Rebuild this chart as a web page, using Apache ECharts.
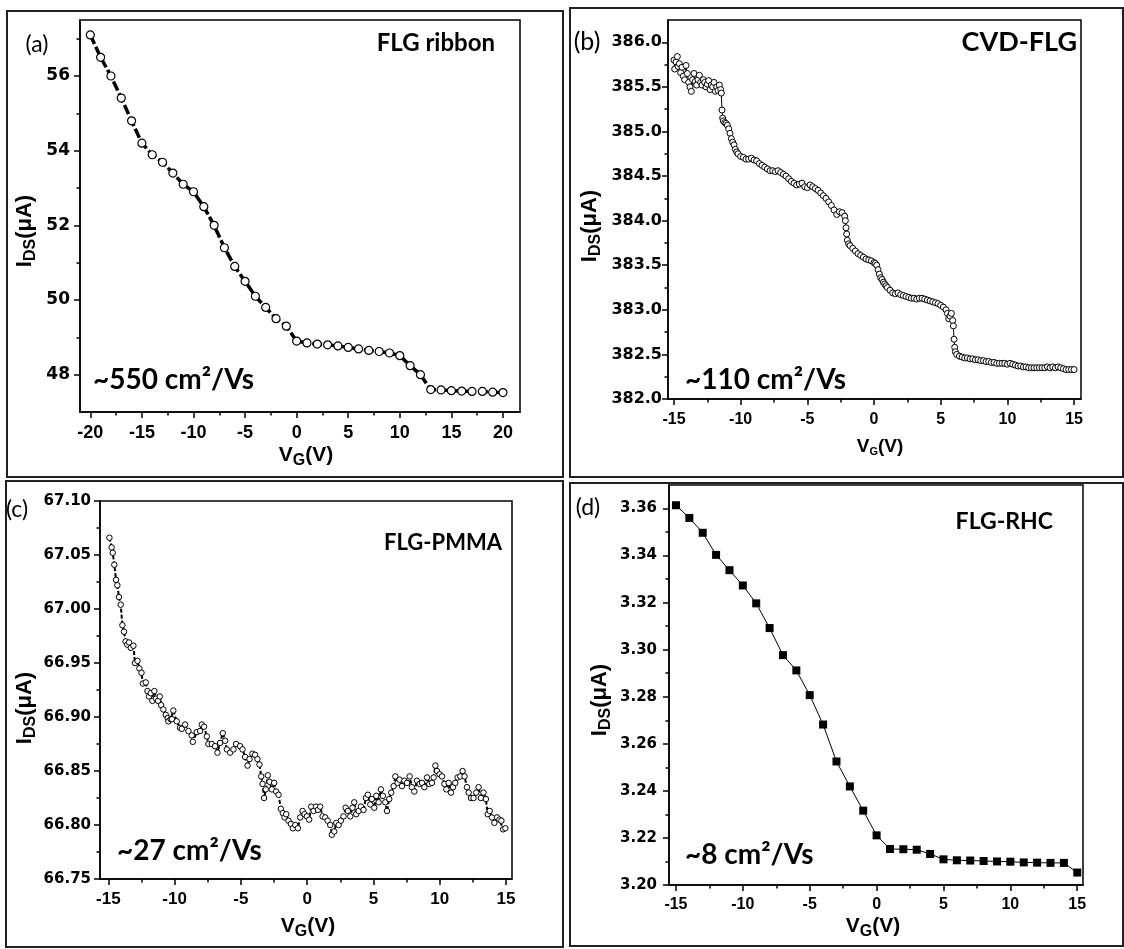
<!DOCTYPE html>
<html>
<head>
<meta charset="utf-8">
<script src="https://cdn.jsdelivr.net/npm/echarts@6/dist/echarts.min.js"></script>
<style>
html, body { margin: 0; padding: 0; background: #fff; }
#main { width: 1124px; height: 949px; }
</style>
</head>
<body>
<div id="main"></div>
<script>
// (a) FLG ribbon
var aVg = [-20, -19, -18, -17, -16, -15, -14, -13, -12, -11, -10, -9, -8, -7, -6, -5, -4, -3, -2, -1,
	0, 1, 2, 3, 4, 5, 6, 7, 8, 9, 10, 11, 12, 13, 14, 15, 16, 17, 18, 19, 20];
var aIds = [57.1, 56.5, 56.0, 55.41, 54.8, 54.2, 53.89, 53.69, 53.4, 53.1, 52.9, 52.5, 52.0, 51.4, 50.9, 50.5, 50.1, 49.8, 49.5, 49.3,
	48.9, 48.85, 48.82, 48.8, 48.77, 48.73, 48.69, 48.65, 48.62, 48.58, 48.51, 48.24, 48.0, 47.6, 47.59, 47.57, 47.56, 47.55, 47.55, 47.53, 47.52];
var aXTicks = [-20, -15, -10, -5, 0, 5, 10, 15, 20];
var aXMinor = [-17.5, -12.5, -7.5, -2.5, 2.5, 7.5, 12.5, 17.5];
var aYTicks = [48, 50, 52, 54, 56];
var aYMinor = [49, 51, 53, 55, 57];

// (b) CVD-FLG
var bVg = [
	-15.0, -14.95, -14.85, -14.75, -14.7, -14.6, -14.5, -14.4, -14.3, -14.2,
	-14.1, -14.0, -13.9, -13.8, -13.7, -13.6, -13.5, -13.4, -13.3, -13.2,
	-13.1, -13.0, -12.9, -12.8, -12.7, -12.6, -12.5, -12.4, -12.3, -12.2,
	-12.1, -12.0, -11.9, -11.8, -11.7, -11.6, -11.5, -11.45, -11.4, -11.35,
	-11.3, -11.2, -11.1, -11.0, -10.9, -10.8, -10.7, -10.6, -10.5, -10.4,
	-10.3, -10.2, -10.0, -9.8, -9.6, -9.4, -9.2, -9.0, -8.8, -8.6,
	-8.4, -8.2, -8.0, -7.8, -7.6, -7.4, -7.2, -7.0, -6.8, -6.6,
	-6.4, -6.2, -6.0, -5.8, -5.6, -5.4, -5.2, -5.0, -4.8, -4.6,
	-4.4, -4.2, -4.0, -3.8, -3.6, -3.4, -3.2, -3.0, -2.8, -2.6,
	-2.4, -2.2, -2.15, -2.1, -2.05, -2.0, -1.9, -1.8, -1.6, -1.4,
	-1.2, -1.0, -0.8, -0.6, -0.4, -0.2, 0.0, 0.1, 0.2, 0.3,
	0.4, 0.5, 0.6, 0.7, 0.8, 0.9, 1.0, 1.2, 1.4, 1.6,
	1.8, 2.0, 2.2, 2.4, 2.6, 2.8, 3.0, 3.2, 3.4, 3.6,
	3.8, 4.0, 4.2, 4.4, 4.6, 4.8, 5.0, 5.2, 5.4, 5.5,
	5.6, 5.7, 5.8, 5.9, 5.95, 6.0, 6.05, 6.1, 6.2, 6.4,
	6.6, 6.8, 7.0, 7.2, 7.4, 7.6, 7.8, 8.0, 8.2, 8.4,
	8.6, 8.8, 9.0, 9.2, 9.4, 9.6, 9.8, 10.0, 10.2, 10.4,
	10.6, 10.8, 11.0, 11.2, 11.4, 11.6, 11.8, 12.0, 12.2, 12.4,
	12.6, 12.8, 13.0, 13.2, 13.4, 13.6, 13.8, 14.0, 14.2, 14.4,
	14.6, 14.8, 15.0];
var bIds = [
	385.80, 385.70, 385.78, 385.84, 385.73, 385.76, 385.66, 385.72, 385.62, 385.58,
	385.74, 385.65, 385.55, 385.50, 385.45, 385.58, 385.65, 385.56, 385.52, 385.58,
	385.63, 385.55, 385.52, 385.58, 385.55, 385.50, 385.53, 385.57, 385.47, 385.52,
	385.50, 385.55, 385.45, 385.50, 385.46, 385.52, 385.47, 385.43, 385.24, 385.15,
	385.12, 385.10, 385.09, 385.07, 385.03, 384.98, 384.92, 384.88, 384.85, 384.80,
	384.77, 384.75, 384.72, 384.71, 384.69, 384.69, 384.70, 384.68, 384.67, 384.64,
	384.62, 384.60, 384.58, 384.56, 384.56, 384.55, 384.56, 384.54, 384.52, 384.50,
	384.47, 384.44, 384.42, 384.40, 384.41, 384.42, 384.38, 384.37, 384.40, 384.38,
	384.36, 384.34, 384.31, 384.28, 384.25, 384.21, 384.17, 384.12, 384.07, 384.10,
	384.09, 384.05, 384.00, 383.92, 383.85, 383.78, 383.74, 383.72, 383.69, 383.66,
	383.63, 383.61, 383.59, 383.57, 383.56, 383.55, 383.53, 383.52, 383.50, 383.45,
	383.40, 383.36, 383.34, 383.31, 383.29, 383.27, 383.25, 383.22, 383.19, 383.18,
	383.19, 383.17, 383.16, 383.15, 383.14, 383.13, 383.13, 383.12, 383.13, 383.13,
	383.12, 383.11, 383.10, 383.09, 383.08, 383.07, 383.05, 383.03, 383.00, 382.96,
	382.90, 382.93, 382.96, 382.88, 382.82, 382.67, 382.58, 382.53, 382.50, 382.48,
	382.47, 382.46, 382.46, 382.45, 382.45, 382.44, 382.44, 382.43, 382.43, 382.42,
	382.42, 382.41, 382.41, 382.40, 382.40, 382.40, 382.40, 382.39, 382.40, 382.39,
	382.38, 382.37, 382.37, 382.36, 382.36, 382.35, 382.35, 382.35, 382.35, 382.35,
	382.35, 382.35, 382.36, 382.35, 382.36, 382.35, 382.36, 382.35, 382.34, 382.33,
	382.33, 382.33, 382.33];
var bXTicks = [-15, -10, -5, 0, 5, 10, 15];
var bXMinor = [-12.5, -7.5, -2.5, 2.5, 7.5, 12.5];
var bYTicks = [382.0, 382.5, 383.0, 383.5, 384.0, 384.5, 385.0, 385.5, 386.0];
var bYMinor = [382.25, 382.75, 383.25, 383.75, 384.25, 384.75, 385.25, 385.75];

// (c) FLG-PMMA
var cVg = [
	-14.92, -14.75, -14.67, -14.55, -14.42, -14.32, -14.2, -14.07, -13.94, -13.82,
	-13.7, -13.57, -13.44, -13.31, -13.11, -12.99, -12.8, -12.66, -12.5, -12.4,
	-12.18, -12.05, -11.93, -11.8, -11.68, -11.53, -11.4, -11.25, -11.12, -11.02,
	-10.85, -10.67, -10.52, -10.47, -10.3, -10.2, -10.1, -9.84, -9.59, -9.46,
	-9.21, -8.96, -8.71, -8.63, -8.33, -8.08, -7.95, -7.78, -7.57, -7.45,
	-7.2, -6.95, -6.77, -6.57, -6.37, -6.19, -6.06, -5.81, -5.56, -5.36,
	-5.06, -4.88, -4.68, -4.5, -4.35, -4.13, -3.93, -3.75, -3.6, -3.47,
	-3.37, -3.25, -3.12, -2.97, -2.84, -2.67, -2.49, -2.34, -2.16, -1.99,
	-1.84, -1.71, -1.58, -1.41, -1.23, -1.08, -0.9, -0.7, -0.53, -0.35,
	-0.2, -0.02, 0.15, 0.3, 0.48, 0.66, 0.81, 0.98, 1.16, 1.36,
	1.54, 1.74, 1.86, 2.04, 2.19, 2.37, 2.54, 2.74, 2.9, 3.07,
	3.25, 3.42, 3.55, 3.7, 3.88, 4.05, 4.25, 4.43, 4.58, 4.76,
	4.88, 5.06, 5.21, 5.39, 5.56, 5.71, 5.89, 6.02, 6.19, 6.34,
	6.52, 6.65, 6.82, 6.97, 7.15, 7.33, 7.53, 7.73, 7.9, 8.08,
	8.28, 8.48, 8.66, 8.84, 9.04, 9.21, 9.41, 9.54, 9.67, 9.79,
	9.99, 10.17, 10.35, 10.5, 10.67, 10.85, 11.0, 11.17, 11.35, 11.55,
	11.72, 11.87, 12.05, 12.18, 12.36, 12.55, 12.75, 12.93, 13.1, 13.3,
	13.48, 13.62, 13.77, 13.94, 14.12, 14.32, 14.5, 14.65, 14.78, 14.95];
var cIds = [
	67.066, 67.057, 67.052, 67.041, 67.027, 67.022, 67.011, 67.004, 66.985, 66.979,
	66.970, 66.967, 66.969, 66.964, 66.966, 66.950, 66.952, 66.945, 66.941, 66.931,
	66.932, 66.924, 66.919, 66.922, 66.915, 66.924, 66.917, 66.915, 66.919, 66.911,
	66.907, 66.902, 66.899, 66.896, 66.898, 66.898, 66.906, 66.896, 66.890, 66.889,
	66.893, 66.887, 66.883, 66.877, 66.886, 66.887, 66.893, 66.891, 66.882, 66.875,
	66.875, 66.873, 66.867, 66.876, 66.885, 66.878, 66.870, 66.867, 66.870, 66.875,
	66.873, 66.870, 66.863, 66.855, 66.861, 66.866, 66.865, 66.861, 66.856, 66.845,
	66.838, 66.825, 66.833, 66.846, 66.840, 66.833, 66.839, 66.831, 66.828, 66.815,
	66.811, 66.807, 66.810, 66.804, 66.801, 66.797, 66.800, 66.797, 66.807, 66.813,
	66.810, 66.808, 66.805, 66.817, 66.813, 66.817, 66.814, 66.817, 66.808, 66.807,
	66.804, 66.800, 66.791, 66.794, 66.802, 66.800, 66.804, 66.808, 66.816, 66.813,
	66.808, 66.816, 66.821, 66.810, 66.813, 66.817, 66.814, 66.825, 66.828, 66.819,
	66.824, 66.816, 66.827, 66.821, 66.833, 66.827, 66.821, 66.813, 66.824, 66.830,
	66.836, 66.845, 66.839, 66.842, 66.836, 66.841, 66.839, 66.845, 66.835, 66.831,
	66.841, 66.838, 66.839, 66.835, 66.844, 66.838, 66.839, 66.844, 66.855, 66.850,
	66.847, 66.845, 66.838, 66.833, 66.839, 66.830, 66.835, 66.839, 66.844, 66.845,
	66.850, 66.845, 66.835, 66.830, 66.825, 66.825, 66.830, 66.835, 66.825, 66.830,
	66.824, 66.810, 66.813, 66.807, 66.802, 66.807, 66.805, 66.804, 66.796, 66.797];
var cXTicks = [-15, -10, -5, 0, 5, 10, 15];
var cXMinor = [-12.5, -7.5, -2.5, 2.5, 7.5, 12.5];
var cYTicks = [66.75, 66.80, 66.85, 66.90, 66.95, 67.00, 67.05, 67.10];
var cYMinor = [66.775, 66.825, 66.875, 66.925, 66.975, 67.025, 67.075];

// (d) FLG-RHC
var dVg = [-15, -14, -13, -12, -11, -10, -9, -8, -7, -6, -5, -4, -3, -2, -1,
	0, 1, 2, 3, 4, 5, 6, 7, 8, 9, 10, 11, 12, 13, 14, 15];
var dIds = [3.3614, 3.356, 3.3497, 3.3403, 3.3338, 3.3273, 3.3197, 3.3092, 3.2977, 3.2912, 3.2807, 3.2682, 3.2525, 3.2419, 3.2316,
	3.2211, 3.2153, 3.2152, 3.215, 3.2132, 3.2109, 3.2105, 3.2104, 3.2102, 3.21, 3.2099, 3.2096, 3.2095, 3.2094, 3.2094, 3.2053];
var dXTicks = [-15, -10, -5, 0, 5, 10, 15];
var dXMinor = [-12.5, -7.5, -2.5, 2.5, 7.5, 12.5];
var dYTicks = [3.20, 3.22, 3.24, 3.26, 3.28, 3.30, 3.32, 3.34, 3.36];
var dYMinor = [3.21, 3.23, 3.25, 3.27, 3.29, 3.31, 3.33, 3.35];

var tickFont = 'Liberation Sans';
var yTickFont = 'DejaVu Sans';
var noteFont = 'Lato';

// 좌표쌍 만들기
function toPairs(xs, ys) {
	var out = [];
	for (var i = 0; i < xs.length; i++) {
		out.push([xs[i], ys[i]]);
	}
	return out;
}

// 축 (라벨이 있으면 주축, 없으면 보조눈금)
function valueAxis(gridIndex, min, max, ticks, tickLen, lab) {
	var axis = {
		type: 'value',
		gridIndex: gridIndex,
		min: min,
		max: max,
		axisLine: { show: !!lab, onZero: false, lineStyle: { color: '#000', width: 1.5 } },
		axisTick: { show: true, customValues: ticks, length: tickLen, lineStyle: { color: '#000', width: 1.5 } },
		axisLabel: { show: false },
		splitLine: { show: false }
	};
	if (lab) {
		axis.axisLabel = {
			show: true,
			customValues: ticks,
			margin: lab.margin,
			color: '#000',
			fontFamily: lab.font,
			fontWeight: 'bold',
			fontSize: lab.size,
			formatter: lab.formatter
		};
	}
	return axis;
}

function fixed(n) {
	return function(v) { return v.toFixed(n); };
}

// 그리드 위치
var rects = [
	{ left: 80, top: 20, width: 440, height: 392 },
	{ left: 668, top: 20, width: 413, height: 379 },
	{ left: 100, top: 501, width: 412, height: 378 },
	{ left: 669, top: 485, width: 414, height: 400 }
];
var grids = [];
for (var g = 0; g < 8; g++) {
	var r = rects[g % 4];
	grids.push({
		left: r.left, top: r.top, width: r.width, height: r.height,
		show: g < 4, borderColor: '#000', borderWidth: 1.5,
		outerBoundsMode: 'none', containLabel: false
	});
}

var xAxes = [
	valueAxis(0, -21, 21.65, aXTicks, 6, { margin: 12, font: tickFont, size: 18 }),
	valueAxis(1, -15.45, 15.52, bXTicks, 6, { margin: 13, font: tickFont, size: 16 }),
	valueAxis(2, -15.63, 15.45, cXTicks, 6, { margin: 12, font: tickFont, size: 17 }),
	valueAxis(3, -15.52, 15.43, dXTicks, 6, { margin: 12, font: tickFont, size: 16 }),
	valueAxis(4, -21, 21.65, aXMinor, 3.5),
	valueAxis(5, -15.45, 15.52, bXMinor, 3.5),
	valueAxis(6, -15.63, 15.45, cXMinor, 3.5),
	valueAxis(7, -15.52, 15.43, dXMinor, 3.5)
];
var yAxes = [
	valueAxis(0, 47, 57.5, aYTicks, 6, { margin: 10, font: yTickFont, size: 17 }),
	valueAxis(1, 382.0, 386.25, bYTicks, 6, { margin: 6, font: yTickFont, size: 16, formatter: fixed(1) }),
	valueAxis(2, 66.75, 67.10, cYTicks, 6, { margin: 9, font: yTickFont, size: 15, formatter: fixed(2) }),
	valueAxis(3, 3.20, 3.37, dYTicks, 6, { margin: 12, font: yTickFont, size: 15, formatter: fixed(2) }),
	valueAxis(4, 47, 57.5, aYMinor, 3.5),
	valueAxis(5, 382.0, 386.25, bYMinor, 3.5),
	valueAxis(6, 66.75, 67.10, cYMinor, 3.5),
	valueAxis(7, 3.20, 3.37, dYMinor, 3.5)
];

// 글자 요소
function note(x, y, text, size, weight, align) {
	return {
		type: 'text', x: x, y: y, z: 100,
		style: {
			text: text, fill: '#000',
			font: weight + ' ' + size + 'px ' + noteFont,
			align: align, textAlign: align,
			verticalAlign: 'middle', textVerticalAlign: 'middle'
		}
	};
}
function subLabel(x, y, main, sub, tail, size, subSize, rotate) {
	return {
		type: 'text', x: x, y: y, z: 100,
		rotation: rotate ? Math.PI / 2 : 0,
		style: {
			text: '{m|' + main + '}{s|' + sub + '}{m|' + tail + '}',
			align: 'center', textAlign: 'center',
			verticalAlign: 'middle', textVerticalAlign: 'middle',
			rich: {
				m: { fontFamily: tickFont, fontWeight: 'bold', fontSize: size, color: '#000' },
				s: { fontFamily: tickFont, fontWeight: 'bold', fontSize: subSize, color: '#000', padding: [Math.round(size * 0.5), 0, 0, 0] }
			}
		}
	};
}
function frame(x, y, w, h) {
	return {
		type: 'rect', z: 100,
		shape: { x: x, y: y, width: w, height: h },
		style: { fill: 'none', stroke: '#222', lineWidth: 2 }
	};
}

var graphics = [
	frame(7, 11, 556, 466),
	frame(570, 8, 553, 469),
	frame(6, 481, 557, 466),
	frame(570, 483, 553, 463),

	note(37, 45, '(a)', 23, 'normal', 'center'),
	note(495, 43, 'FLG ribbon', 24, 'bold', 'right'),
	note(93, 380, '~550 cm²/Vs', 28, 'bold', 'left'),
	subLabel(25, 231, 'I', 'DS', '(μA)', 22, 16, true),
	subLabel(306, 455, 'V', 'G', '(V)', 21, 16, false),

	note(587, 42, '(b)', 25, 'normal', 'center'),
	note(1077, 42, 'CVD-FLG', 27, 'bold', 'right'),
	note(685, 380, '~110 cm²/Vs', 28, 'bold', 'left'),
	subLabel(590, 226, 'I', 'DS', '(μA)', 22, 16, true),
	subLabel(880, 447, 'V', 'G', '(V)', 19, 11, false),

	note(17, 510, '(c)', 23, 'normal', 'center'),
	note(502, 543, 'FLG-PMMA', 22, 'bold', 'right'),
	note(117, 851, '~27 cm²/Vs', 28, 'bold', 'left'),
	subLabel(25, 708, 'I', 'DS', '(μA)', 22, 16, true),
	subLabel(308, 926, 'V', 'G', '(V)', 21, 16, false),

	note(588, 508, '(d)', 23, 'normal', 'center'),
	note(1053, 522, 'FLG-RHC', 23, 'bold', 'right'),
	note(685, 855, '~8 cm²/Vs', 28, 'bold', 'left'),
	subLabel(600, 700, 'I', 'DS', '(μA)', 22, 16, true),
	subLabel(873, 926, 'V', 'G', '(V)', 21, 16, false)
];

var chart = echarts.init(document.getElementById('main'));
var option = {
	backgroundColor: '#fff',
	animation: false,
	grid: grids,
	xAxis: xAxes,
	yAxis: yAxes,
	graphic: graphics,
	series: [{
		type: 'line', xAxisIndex: 0, yAxisIndex: 0,
		data: toPairs(aVg, aIds),
		symbol: 'circle', symbolSize: 8,
		itemStyle: { color: '#fff', borderColor: '#000', borderWidth: 1.2 },
		lineStyle: { color: '#000', width: 3.5, type: [10, 3] }
	}, {
		type: 'line', xAxisIndex: 1, yAxisIndex: 1,
		data: toPairs(bVg, bIds),
		symbol: 'circle', symbolSize: 6,
		itemStyle: { color: '#fff', borderColor: '#000', borderWidth: 1 },
		lineStyle: { color: '#000', width: 1 }
	}, {
		type: 'line', xAxisIndex: 2, yAxisIndex: 2,
		data: toPairs(cVg, cIds),
		symbol: 'circle', symbolSize: 5.5,
		itemStyle: { color: '#fff', borderColor: '#000', borderWidth: 1 },
		lineStyle: { color: '#000', width: 2, type: [4, 2] }
	}, {
		type: 'line', xAxisIndex: 3, yAxisIndex: 3,
		data: toPairs(dVg, dIds),
		symbol: 'rect', symbolSize: 8,
		itemStyle: { color: '#000' },
		lineStyle: { color: '#000', width: 1 }
	}]
};
chart.setOption(option);
</script>
</body>
</html>
